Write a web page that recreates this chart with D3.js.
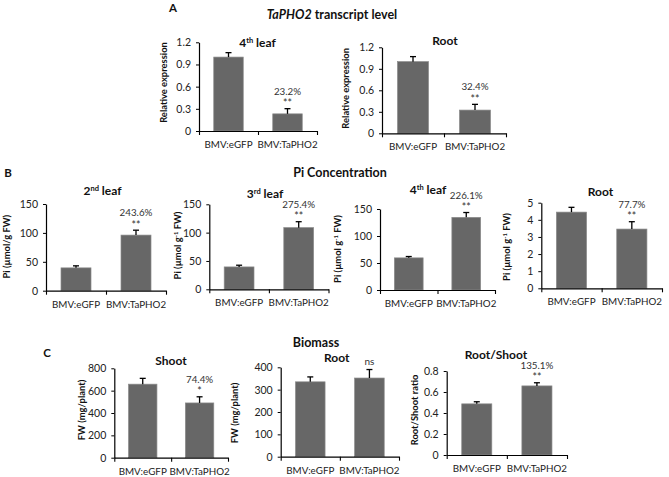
<!DOCTYPE html>
<html>
<head>
<meta charset="utf-8">
<script src="https://cdn.jsdelivr.net/npm/d3@7"></script>
<style>
  html, body { margin: 0; padding: 0; background: #fff; }
  svg { display: block; font-family: Lato, "Open Sans", sans-serif; }
</style>
</head>
<body>
<svg id="chart" width="669" height="477"></svg>
<script>
// ---------------- DATA ----------------
const groups = ["BMV:eGFP", "BMV:TaPHO2"];

// A: TaPHO2 transcript level (relative expression)
const expr4thLeaf = [1.00, 0.232];
const expr4thLeafErr = [0.06, 0.07];
const exprRoot = [1.00, 0.324];
const exprRootErr = [0.07, 0.08];
const exprTicks = [0, 0.3, 0.6, 0.9, 1.2];
const exprTickLabels = ["0", "0.3", "0.6", "0.9", "1.2"];

// B: Pi concentration
const pi2ndLeaf = [39.5, 96.2];
const pi2ndLeafErr = [3.5, 8.5];
const pi3rdLeaf = [39.5, 108.8];
const pi3rdLeafErr = [3, 10.5];
const pi4thLeaf = [59.5, 134.5];
const pi4thLeafErr = [2.5, 9];
const piRoot = [4.45, 3.46];
const piRootErr = [0.28, 0.43];
const piLeafTicks = [0, 50, 100, 150];
const piLeafTickLabels = ["0", "50", "100", "150"];
const piRootTicks = [0, 1, 2, 3, 4, 5];
const piRootTickLabels = ["0", "1", "2", "3", "4", "5"];

// C: Biomass
const fwShoot = [658, 490];
const fwShootErr = [52, 55];
const fwRoot = [335, 352];
const fwRootErr = [22, 38];
const rootShootRatio = [0.487, 0.658];
const rootShootRatioErr = [0.02, 0.03];
const shootTicks = [0, 200, 400, 600, 800];
const shootTickLabels = ["0", "200", "400", "600", "800"];
const rootTicks = [0, 100, 200, 300, 400];
const rootTickLabels = ["0", "100", "200", "300", "400"];
const ratioTicks = [0, 0.2, 0.4, 0.6, 0.8];
const ratioTickLabels = ["0", "0.2", "0.4", "0.6", "0.8"];

// annotations over the TaPHO2 bar
const annotPercent = ["23.2%", "32.4%", "243.6%", "275.4%", "226.1%", "77.7%", "74.4%", "", "135.1%"];
const annotSig = ["**", "**", "**", "**", "**", "**", "*", "ns", "**"];

// ---------------- LAYOUT ----------------
const panels = [
  {vals: expr4thLeaf, errs: expr4thLeafErr, ticks: exprTicks, tl: exprTickLabels,
   x0: 199, x1: 317, yTop: 42.3, yZero: 131,
   title: [["4"], ["th", 1], [" leaf"]], tx: 257.5, ty: 42,
   ylab: [["Relative expression"]], lx: 163.5, ly: 82.5},
  {vals: exprRoot, errs: exprRootErr, ticks: exprTicks, tl: exprTickLabels,
   x0: 382, x1: 506, yTop: 47.3, yZero: 133.3,
   title: [["Root"]], tx: 445, ty: 40,
   ylab: [["Relative expression"]], lx: 345.7, ly: 88.3},
  {vals: pi2ndLeaf, errs: pi2ndLeafErr, ticks: piLeafTicks, tl: piLeafTickLabels,
   x0: 46, x1: 166, yTop: 204, yZero: 290.7,
   title: [["2"], ["nd", 1], [" leaf"]], tx: 102.5, ty: 190,
   ylab: [["Pi (µmol/g FW)"]], lx: 7, ly: 246.7},
  {vals: pi3rdLeaf, errs: pi3rdLeafErr, ticks: piLeafTicks, tl: piLeafTickLabels,
   x0: 209.3, x1: 328.5, yTop: 204.3, yZero: 289.3,
   title: [["3"], ["rd", 1], [" leaf"]], tx: 265, ty: 193.3,
   ylab: [["Pi (µmol g"], ["-1", 1], [" FW)"]], lx: 177.3, ly: 245.5},
  {vals: pi4thLeaf, errs: pi4thLeafErr, ticks: piLeafTicks, tl: piLeafTickLabels,
   x0: 380, x1: 495, yTop: 209, yZero: 290,
   title: [["4"], ["th", 1], [" leaf"]], tx: 428, ty: 189.3,
   ylab: [["Pi (µmol g"], ["-1", 1], [" FW)"]], lx: 337.3, ly: 249},
  {vals: piRoot, errs: piRootErr, ticks: piRootTicks, tl: piRootTickLabels,
   x0: 541.3, x1: 662, yTop: 202.7, yZero: 288.3,
   title: [["Root"]], tx: 600.5, ty: 191.7,
   ylab: [["Pi (µmol g"], ["-1", 1], [" FW)"]], lx: 506.3, ly: 247},
  {vals: fwShoot, errs: fwShootErr, ticks: shootTicks, tl: shootTickLabels,
   x0: 114.3, x1: 228, yTop: 368.3, yZero: 457.7,
   title: [["Shoot"]], tx: 171, ty: 360.7,
   ylab: [["FW (mg/plant)"]], lx: 81.7, ly: 410},
  {vals: fwRoot, errs: fwRootErr, ticks: rootTicks, tl: rootTickLabels,
   x0: 280.7, x1: 399, yTop: 367.3, yZero: 456.7,
   title: [["Root"]], tx: 336.7, ty: 357.8,
   ylab: [["FW (mg/plant)"]], lx: 235, ly: 413},
  {vals: rootShootRatio, errs: rootShootRatioErr, ticks: ratioTicks, tl: ratioTickLabels,
   x0: 446.7, x1: 567, yTop: 371, yZero: 455,
   title: [["Root/Shoot"]], tx: 496, ty: 354.3,
   ylab: [["Root/Shoot ratio"]], lx: 415, ly: 410}
];

const svg = d3.select("#chart");

function richText(sel, parts, supSize, shift) {
  parts.forEach((p, i) => {
    const t = sel.append("tspan").text(p[0]);
    if (p[1]) {
      t.attr("font-size", supSize).attr("dy", -shift);
    } else if (i > 0 && parts[i - 1][1]) {
      t.attr("dy", shift);
    }
  });
}

// section headers & letters
const head = svg.append("text").attr("x", 332).attr("y", 19).attr("text-anchor", "middle")
  .attr("font-weight", "bold").attr("font-size", 12.5).attr("fill", "#111");
head.append("tspan").attr("font-style", "italic").text("TaPHO2");
head.append("tspan").text(" transcript level");
svg.append("text").attr("x", 340).attr("y", 177).attr("text-anchor", "middle")
  .attr("font-weight", "bold").attr("font-size", 12.5).attr("fill", "#111").text("Pi Concentration");
svg.append("text").attr("x", 316).attr("y", 347).attr("text-anchor", "middle")
  .attr("font-weight", "bold").attr("font-size", 12.5).attr("fill", "#111").text("Biomass");
[["A", 173, 12], ["B", 8, 177], ["C", 47, 357]].forEach(d => {
  svg.append("text").attr("x", d[1]).attr("y", d[2]).attr("text-anchor", "middle")
    .attr("font-weight", "bold").attr("font-size", 11.5).attr("fill", "#111").text(d[0]);
});

panels.forEach((p, i) => {
  const g = svg.append("g");
  const x = d3.scaleBand().domain(groups).range([p.x0, p.x1]).paddingInner(0.5).paddingOuter(0.25);
  const xEdge = d3.scaleLinear().domain([0, 2]).range([p.x0, p.x1]);
  const y = d3.scaleLinear().domain([p.ticks[0], p.ticks[p.ticks.length - 1]]).range([p.yZero, p.yTop]);

  // bars
  g.selectAll("rect.bar").data(p.vals).join("rect")
    .attr("x", (d, j) => x(groups[j]))
    .attr("width", x.bandwidth())
    .attr("y", d => y(d))
    .attr("height", d => p.yZero - y(d))
    .attr("fill", "#676767").attr("stroke", "#8a8a8a").attr("stroke-width", 0.7);

  // error bars (upper)
  p.vals.forEach((v, j) => {
    const cx = x(groups[j]) + x.bandwidth() / 2;
    g.append("line").attr("x1", cx).attr("x2", cx).attr("y1", y(v)).attr("y2", y(v + p.errs[j]))
      .attr("stroke", "#000").attr("stroke-width", 1.3);
    g.append("line").attr("x1", cx - 3).attr("x2", cx + 3).attr("y1", y(v + p.errs[j])).attr("y2", y(v + p.errs[j]))
      .attr("stroke", "#000").attr("stroke-width", 1.3);
  });

  // y axis
  const ya = g.append("g").attr("transform", `translate(${p.x0},0)`)
    .call(d3.axisLeft(y).tickValues(p.ticks).tickFormat((d, k) => p.tl[k]).tickSize(3).tickSizeOuter(0).tickPadding(5));
  ya.select(".domain").attr("stroke", "#000").attr("stroke-width", 1.2);
  ya.selectAll(".tick line").attr("stroke", "#000");
  ya.selectAll(".tick text").attr("font-size", 10.5).attr("fill", "#222").attr("font-family", "Lato, sans-serif");

  // x axis (ticks at category boundaries)
  const xa = g.append("g").attr("transform", `translate(0,${p.yZero})`)
    .call(d3.axisBottom(xEdge).tickValues([0, 1, 2]).tickFormat("").tickSize(4).tickSizeOuter(0));
  xa.select(".domain").attr("stroke", "#000").attr("stroke-width", 1.2);
  xa.selectAll(".tick line").attr("stroke", "#000").attr("stroke-width", 1.1);
  const xl = g.append("g").attr("transform", `translate(0,${p.yZero})`)
    .call(d3.axisBottom(x).tickSize(0).tickPadding(10));
  xl.select(".domain").remove();
  xl.selectAll(".tick text").attr("font-size", 9.8).attr("fill", "#222").attr("font-family", "Lato, sans-serif");

  // title
  const t = g.append("text").attr("x", p.tx).attr("y", p.ty + 4.5).attr("text-anchor", "middle")
    .attr("font-weight", "bold").attr("font-size", 12).attr("fill", "#111");
  richText(t, p.title, 7.5, 4);

  // y label
  const yl = g.append("text").attr("transform", `translate(${p.lx + 3.3},${p.ly}) rotate(-90)`)
    .attr("text-anchor", "middle").attr("font-weight", "bold").attr("font-size", 9.4).attr("fill", "#111");
  richText(yl, p.ylab, 6, 3);

  // annotations
  const errTop = y(p.vals[1] + p.errs[1]);
  const cx = x(groups[1]) + x.bandwidth() / 2;
  if (annotSig[i] === "ns") {
    g.append("text").attr("x", cx).attr("y", errTop - 4.5).attr("text-anchor", "middle")
      .attr("font-size", 10).attr("fill", "#333").text("ns");
  } else {
    g.append("text").attr("x", cx).attr("y", errTop - 1.5).attr("text-anchor", "middle")
      .attr("font-size", 10.5).attr("fill", "#333").text(annotSig[i]);
    g.append("text").attr("x", cx).attr("y", errTop - 14).attr("text-anchor", "middle")
      .attr("font-size", 9.8).attr("fill", "#333").text(annotPercent[i]);
  }
});
</script>
</body>
</html>
